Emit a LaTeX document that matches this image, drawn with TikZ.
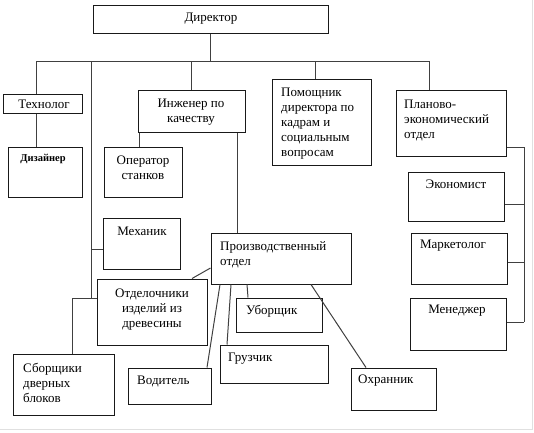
\documentclass[tikz,border=0pt]{standalone}
\usepackage{fontspec}
\setmainfont{Liberation Serif}
\usetikzlibrary{fit}
\begin{document}
\begin{tikzpicture}[x=1pt,y=-1pt,
  box/.style={draw=black!90,line width=1pt,inner sep=0pt,rectangle},
  txt/.style={inner sep=0pt,font=\fontsize{13}{15}\selectfont},
  ln/.style={draw=black!75,line width=1pt},
  frame/.style={draw=black!12,line width=1pt}]
\useasboundingbox (0,0) rectangle (534,432);
\draw[frame] (532.5,0) coordinate (fr1) -- (532.5,429.5) coordinate (fr2) -- (0,429.5) coordinate (fr3);
% boxes
\node[box,fit={(93,5) (328,33)}] (dir) {};
\node[box,fit={(3,94) (82,113)}] (tech) {};
\node[box,fit={(8,147) (82,197)}] (diz) {};
\node[box,fit={(138,90) (245,132)}] (ing) {};
\node[box,fit={(104,147) (182,197)}] (oper) {};
\node[box,fit={(272,79) (371,165)}] (pom) {};
\node[box,fit={(396,90) (506,156)}] (plan) {};
\node[box,fit={(408,172) (504,221)}] (ekon) {};
\node[box,fit={(411,233) (507,284)}] (mark) {};
\node[box,fit={(410,298) (506,350)}] (men) {};
\node[box,fit={(103,218) (180,269)}] (mech) {};
\node[box,fit={(211,233) (351,284)}] (prod) {};
\node[box,fit={(97,279) (207,345)}] (otd) {};
\node[box,fit={(236,298) (322,332)}] (ubor) {};
\node[box,fit={(220,345) (328,383)}] (gruz) {};
\node[box,fit={(128,368) (211,404)}] (vod) {};
\node[box,fit={(351,368) (436,410)}] (ohr) {};
\node[box,fit={(13,354) (114,415)}] (sbor) {};
% texts
\node[txt] (tdir) at (211,19) {Директор};
\node[txt] (ttech) at (44,104) {Технолог};
\node[inner sep=0pt,font=\fontsize{10.5}{12}\selectfont\bfseries] (tdiz) at (43,159) {Дизайнер};
\node[txt,align=center,anchor=north] (ting) at (191,99) {Инженер по\\качеству};
\node[txt,align=center,anchor=north] (toper) at (143,156) {Оператор\\станков};
\node[txt,align=left,anchor=north west] (tpom) at (281,88) {Помощник\\директора по\\кадрам и\\социальным\\вопросам};
\node[txt,align=left,anchor=north west] (tplan) at (404,100) {Планово-\\экономический\\отдел};
\node[txt] (tekon) at (456,184) {Экономист};
\node[txt] (tmark) at (453,246) {Маркетолог};
\node[txt] (tmen) at (457,311) {Менеджер};
\node[txt] (tmech) at (142,231) {Механик};
\node[txt,align=left,anchor=north west] (tprod) at (220,241) {Производственный\\отдел};
\node[txt,align=center,anchor=north] (totd) at (152,289) {Отделочники\\изделий из\\древесины};
\node[txt,anchor=west] (tubor) at (246,311) {Уборщик};
\node[txt,anchor=west] (tgruz) at (228,359) {Грузчик};
\node[txt,anchor=west] (tvod) at (137,381) {Водитель};
\node[txt,anchor=west] (tohr) at (358,381) {Охранник};
\node[txt,align=left,anchor=north west] (tsbor) at (23,363) {Сборщики\\дверных\\блоков};
% bus coordinates
\coordinate (busL) at (36,61);
\coordinate (busR) at (429,61);
\coordinate (b2) at (91,61);
\coordinate (jm) at (91,249);
\coordinate (j2) at (91,298);
\coordinate (j3) at (72,298);
\coordinate (bp) at (315,61);
\coordinate (bi) at (191,61);
\coordinate (p1) at (524,147);
\coordinate (p2) at (524,204);
\coordinate (p3) at (524,262);
\coordinate (p4) at (524,322);
% connectors
\draw[ln] (dir.south) -- (dir.south |- busL);
\draw[ln] (busL |- tech.north) -- (busL) -- (busR) -- (busR |- plan.north);
\draw[ln] (bi) -- (bi |- ing.north);
\draw[ln] (bp) -- (bp |- pom.north);
\draw[ln] (b2) -- (j2) -- (j2 -| otd.west);
\draw[ln] (jm) -- (jm -| mech.west);
\draw[ln] (j3 -| j2) -- (j3) -- (j3 |- sbor.north);
\draw[ln] (tech.south -| busL) -- (diz.north -| busL);
\draw[ln] (ing.south -| 139,0) -- (oper.north -| 139,0);
\draw[ln] (ing.south -| 237,0) -- (prod.north -| 237,0);
\draw[ln] (p1 -| plan.east) -- (p1) -- (p4);
\draw[ln] (p2 -| ekon.east) -- (p2);
\draw[ln] (p3 -| mark.east) -- (p3);
\draw[ln] (p4 -| men.east) -- (p4);
\draw[ln] (prod.west |- 0,268) -- (otd.north -| 192,0);
\draw[ln] (prod.south -| 220,0) -- (vod.north -| 207,0);
\draw[ln] (prod.south -| 231,0) -- (gruz.north -| 227,0);
\draw[ln] (prod.south -| 247,0) -- (ubor.north -| 248,0);
\draw[ln] (prod.south -| 311,0) -- (ohr.north -| 366,0);
\end{tikzpicture}
\end{document}
